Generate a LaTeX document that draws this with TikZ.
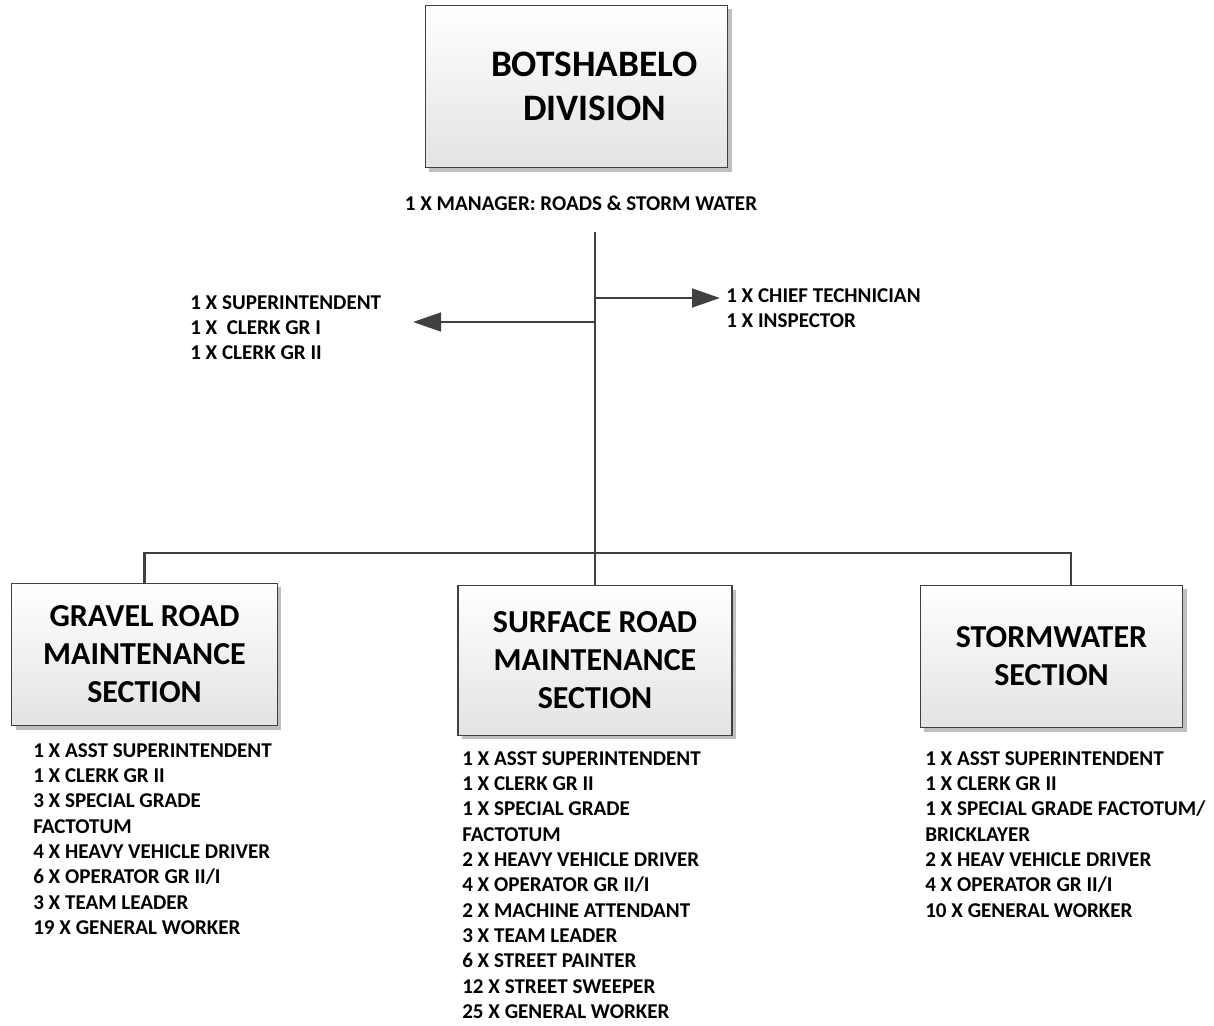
\documentclass[tikz,border=0pt]{standalone}
\usepackage{fontspec}
\setmainfont{Carlito}
\usetikzlibrary{arrows.meta}
\usetikzlibrary{shadows}
\definecolor{lineColor}{rgb}{0.25,0.25,0.25}
\definecolor{boxBottom}{rgb}{0.89,0.89,0.89}
\tikzset{
  mybox/.style={draw=lineColor, line width=0.8pt, top color=white, bottom color=boxBottom, align=center,
    font=\bfseries\fontsize{24}{28.5}\selectfont,
    drop shadow={shadow xshift=3pt, shadow yshift=-3pt, fill=black!25, opacity=1}},
  myline/.style={color=lineColor, line width=2pt},
  myarrow/.style={myline, -{Triangle[length=21pt, width=14pt]}},
  mylist/.style={anchor=north west, inner sep=0pt, align=left, font=\bfseries\fontsize{15.8}{19}\selectfont}
}
\begin{document}
\begin{tikzpicture}[x=0.75pt, y=-0.75pt]
\useasboundingbox (0,0) rectangle (1214,1025);

  \node[mybox, minimum width=227pt, minimum height=122pt, font=\bfseries\fontsize{28}{33}\selectfont] (division) at (576.5,86.5) {\hspace*{27pt}BOTSHABELO\\\hspace*{27pt}DIVISION};
  \node[mylist, anchor=north, align=center] (manager) at (581,196) {1 X MANAGER: ROADS \& STORM WATER};

  \node[mylist] (staff) at (190,295) {1 X SUPERINTENDENT\\1 X\ \ CLERK GR I\\1 X CLERK GR II};
  \node[mylist] (tech) at (726,288) {1 X CHIEF TECHNICIAN\\1 X INSPECTOR};

  \node[mybox, minimum width=199pt, minimum height=107pt] (gravel) at (144.5,654.5) {GRAVEL ROAD\\MAINTENANCE\\SECTION};
  \node[mybox, minimum width=205.5pt, minimum height=112pt] (surface) at (595,660.5) {SURFACE ROAD\\MAINTENANCE\\SECTION};
  \node[mybox, minimum width=197pt, minimum height=107pt] (storm) at (1051.5,656.5) {STORMWATER\\SECTION};

  \node[mylist] (gravellist) at (33,743) {1 X ASST SUPERINTENDENT\\1 X CLERK GR II\\3 X SPECIAL GRADE\\FACTOTUM\\4 X HEAVY VEHICLE DRIVER\\6 X OPERATOR GR II/I\\3 X TEAM LEADER\\19 X GENERAL WORKER};
  \node[mylist] (surfacelist) at (462,751) {1 X ASST SUPERINTENDENT\\1 X CLERK GR II\\1 X SPECIAL GRADE\\FACTOTUM\\2 X HEAVY VEHICLE DRIVER\\4 X OPERATOR GR II/I\\2 X MACHINE ATTENDANT\\3 X TEAM LEADER\\6 X STREET PAINTER\\12 X STREET SWEEPER\\25 X GENERAL WORKER};
  \node[mylist] (stormlist) at (925,751) {1 X ASST SUPERINTENDENT\\1 X CLERK GR II\\1 X SPECIAL GRADE FACTOTUM/\\BRICKLAYER\\2 X HEAV VEHICLE DRIVER\\4 X OPERATOR GR II/I\\10 X GENERAL WORKER};

  \coordinate (trunk) at (595,232);
  \coordinate (rbranch) at (595,298);
  \coordinate (lbranch) at (595,322);
  \coordinate (rtip) at (720,298);
  \coordinate (ltip) at (413,322);
  \coordinate (bus) at (595,553);

  \draw[myline] (trunk) -- (surface.north);
  \draw[myarrow] (rbranch) -- (rtip);
  \draw[myarrow] (lbranch) -- (ltip);
  \draw[myline] (gravel.north) |- (bus) -| ([xshift=14.6pt]storm.north);
\end{tikzpicture}
\end{document}
